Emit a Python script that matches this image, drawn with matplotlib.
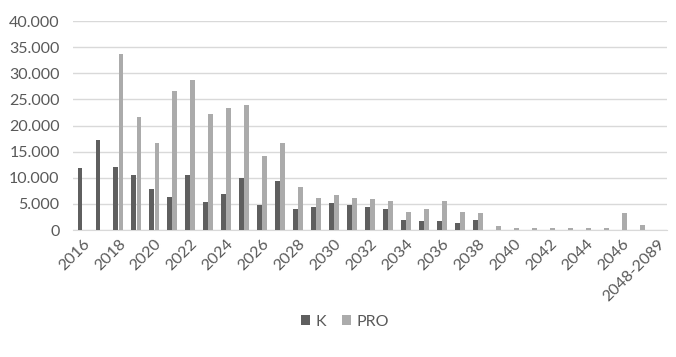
import matplotlib
matplotlib.use("Agg")
import matplotlib.pyplot as plt
import numpy as np

categories = [str(y) for y in range(2016, 2048)] + ["2048-2089"]
k_values = [11800, 17200, 12000, 10500, 7800, 6400, 10500, 5300, 6900, 10000,
            4800, 9300, 4000, 4500, 5100, 4800, 4500, 4000, 2000, 1800,
            1800, 1400, 2000, 0, 0, 0, 0, 0, 0, 0,
            0, 0, 0]
pro_values = [0, 0, 33700, 21700, 16700, 26700, 28700, 22200, 23400, 24000,
              14200, 16700, 8200, 6200, 6700, 6200, 5900, 5600, 3500, 4000,
              5600, 3500, 3200, 700, 400, 300, 300, 300, 300, 300,
              3200, 1000, 0]
y_ticks = [0, 5000, 10000, 15000, 20000, 25000, 30000, 35000, 40000]

plt.rcParams['font.family'] = ['Lato', 'DejaVu Sans']
text_color = '#595959'

fig = plt.figure(figsize=(6.76, 3.57), dpi=100)
ax = fig.add_axes([0.1087, 0.3557, 0.878, 0.5854])

x = np.arange(len(categories))
w = 0.27
ax.bar(x - 0.14, k_values, width=w, color='#5f5f5f', label='K', zorder=3)
ax.bar(x + 0.14, pro_values, width=w, color='#ababab', label='PRO', zorder=3)

ax.set_xlim(-0.5, len(categories) - 0.5)
ax.set_ylim(0, 40000)
ax.set_yticks(y_ticks)
ax.set_yticklabels([f"{v:,}".replace(",", ".") for v in y_ticks])
ax.yaxis.grid(True, color='#d9d9d9', linewidth=1.0, zorder=0)
ax.set_axisbelow(True)

ax.set_xticks(x[::2])
ax.set_xticklabels(categories[::2], rotation=45, ha='right',
                   rotation_mode='anchor')
ax.tick_params(axis='both', length=0, colors=text_color, labelsize=11.5)
ax.tick_params(axis='y', pad=10)
ax.tick_params(axis='x', pad=5)

for side in ['top', 'right', 'left']:
    ax.spines[side].set_visible(False)
ax.spines['bottom'].set_color('#d9d9d9')

leg = fig.legend(loc='center', bbox_to_anchor=(0.51, 0.098), ncol=2,
                 frameon=False, fontsize=11.5, handlelength=0.6,
                 handleheight=0.6, handletextpad=0.3, columnspacing=1.0)
for t in leg.get_texts():
    t.set_color(text_color)

fig.savefig('out.png', dpi=100, facecolor='white')
